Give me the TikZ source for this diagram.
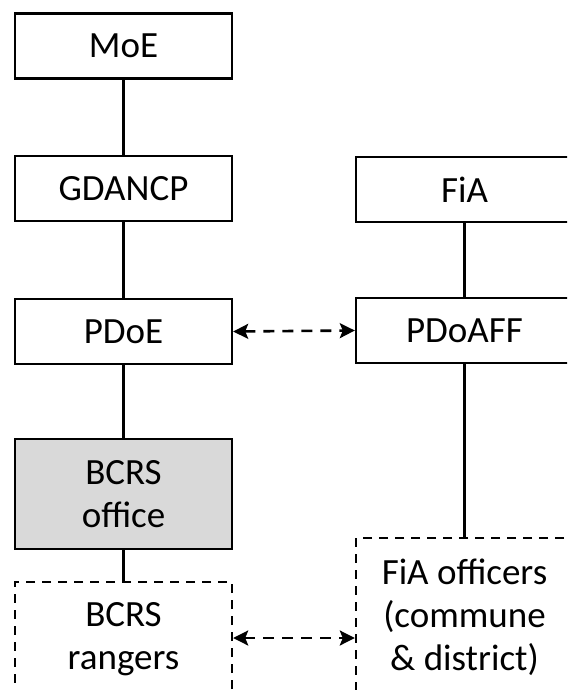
\documentclass[tikz,border=0pt]{standalone}
\usepackage{fontspec}
\setmainfont{Carlito}
\usetikzlibrary{arrows.meta}
\tikzset{
  unit/.style={draw, line width=2.4pt, minimum width=217pt, minimum height=65pt,
    inner sep=0pt, align=center, font=\fontsize{37}{43}\selectfont},
  fieldunit/.style={unit, dash pattern=on 9pt off 7pt},
  link/.style={line width=2.2pt},
  coop/.style={line width=2.6pt, dash pattern=on 11pt off 8pt,
    {Stealth[length=15pt,width=15pt,inset=3pt]}-{Stealth[length=15pt,width=15pt,inset=3pt]}}
}
\begin{document}
\begin{tikzpicture}[x=1pt,y=-1pt]
  \useasboundingbox (0,0) rectangle (567,690);
  \clip (0,0) rectangle (567,690);
  % state side
  \node[unit] (moe) at (123.5,46) {MoE};
  \node[unit] (gdancp) at (123.5,188.5) {GDANCP};
  \node[unit] (pdoe) at (123.5,331.5) {PDoE};
  \node[unit, fill=black!15, minimum height=110pt] (office) at (123.5,494) {BCRS\\office};
  \node[fieldunit, minimum height=114pt] (rangers) at (123.5,639) {BCRS\\rangers};
  % fisheries side
  \node[unit] (fia) at (464.5,189.5) {FiA};
  \node[unit] (pdoaff) at (464.5,330.5) {PDoAFF};
  \node[fieldunit, minimum height=158pt] (officers) at (464.5,617) {FiA officers\\(commune\\\& district)};
  \draw[link] (moe) -- (gdancp);
  \draw[link] (gdancp) -- (pdoe);
  \draw[link] (pdoe) -- (office);
  \draw[link] (office) -- (rangers);
  \draw[link] (fia) -- (pdoaff);
  \draw[link] (pdoaff) -- (officers);
  \draw[coop] (pdoe.east) -- (pdoaff.west);
  \draw[coop] (rangers.east |- 0,638) -- (officers.west |- 0,638);
\end{tikzpicture}
\end{document}
